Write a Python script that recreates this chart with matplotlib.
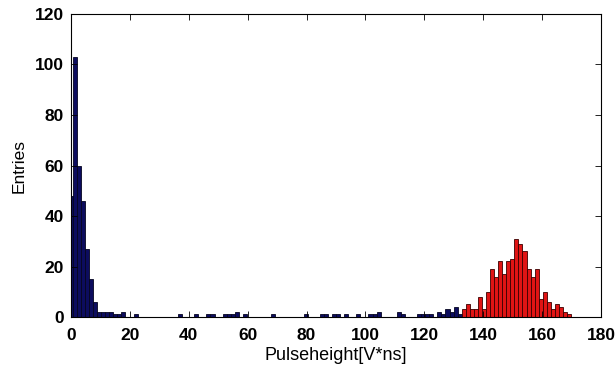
import numpy as np
import matplotlib
matplotlib.use("Agg")
import matplotlib.pyplot as plt

plt.rcParams['font.family'] = ['Liberation Sans', 'DejaVu Sans']

# histogram binning (MATLAB style hist output)
bin_width = 1.376
first_edge = -0.796

# counts per bin, blue part (bins -1 .. 95)
blue_counts = [48, 103, 60, 46, 27, 15, 6, 2, 2, 2, 2, 1, 1, 2, 0, 0, 1,
               0, 0, 0, 0, 0, 0, 0, 0, 0, 0, 1, 0, 0, 0, 1, 0, 0, 1, 1,
               0, 0, 1, 1, 1, 2, 0, 1, 0, 0, 0, 0, 0, 0, 1, 0, 0, 0, 0,
               0, 0, 0, 1, 0, 0, 0, 1, 1, 0, 1, 1, 0, 1, 0, 0, 1, 0, 0,
               1, 1, 2, 0, 0, 0, 0, 2, 1, 0, 0, 0, 1, 1, 1, 1, 0, 2, 1,
               3, 2, 4, 1]
# counts per bin, red part (following the blue bins)
red_counts = [3, 5, 3, 3, 8, 3, 10, 19, 16, 22, 17, 22, 23, 31, 29, 26, 19,
              16, 19, 7, 10, 6, 3, 5, 4, 2, 1]

n_blue = len(blue_counts)
blue_left = first_edge + bin_width * np.arange(n_blue)
red_left = first_edge + bin_width * (n_blue + np.arange(len(red_counts)))

fig = plt.figure(figsize=(6.16, 3.70), dpi=100)
ax = fig.add_axes([0.1153, 0.1432, 0.8604, 0.819])

ax.bar(blue_left, blue_counts, width=bin_width, align='edge',
       color='#0c0c5e', edgecolor='#050520', linewidth=0.6)
ax.bar(red_left, red_counts, width=bin_width, align='edge',
       color='#e01414', edgecolor='#3a0000', linewidth=0.6)

ax.set_xlim(0, 180)
ax.set_ylim(0, 120)
ax.set_xticks(np.arange(0, 181, 20))
ax.set_yticks(np.arange(0, 121, 20))
ax.tick_params(direction='in', top=True, right=True, length=4, width=0.6,
               labelsize=12.5, pad=5)
ax.tick_params(axis='x', pad=8)
for lab in ax.get_xticklabels() + ax.get_yticklabels():
    lab.set_fontweight('bold')
for sp in ax.spines.values():
    sp.set_linewidth(0.8)

ax.set_xlabel('Pulseheight[V*ns]', fontsize=13, labelpad=3)
ax.set_ylabel('Entries', fontsize=12.5, labelpad=6)

fig.savefig('out.png', dpi=100)
